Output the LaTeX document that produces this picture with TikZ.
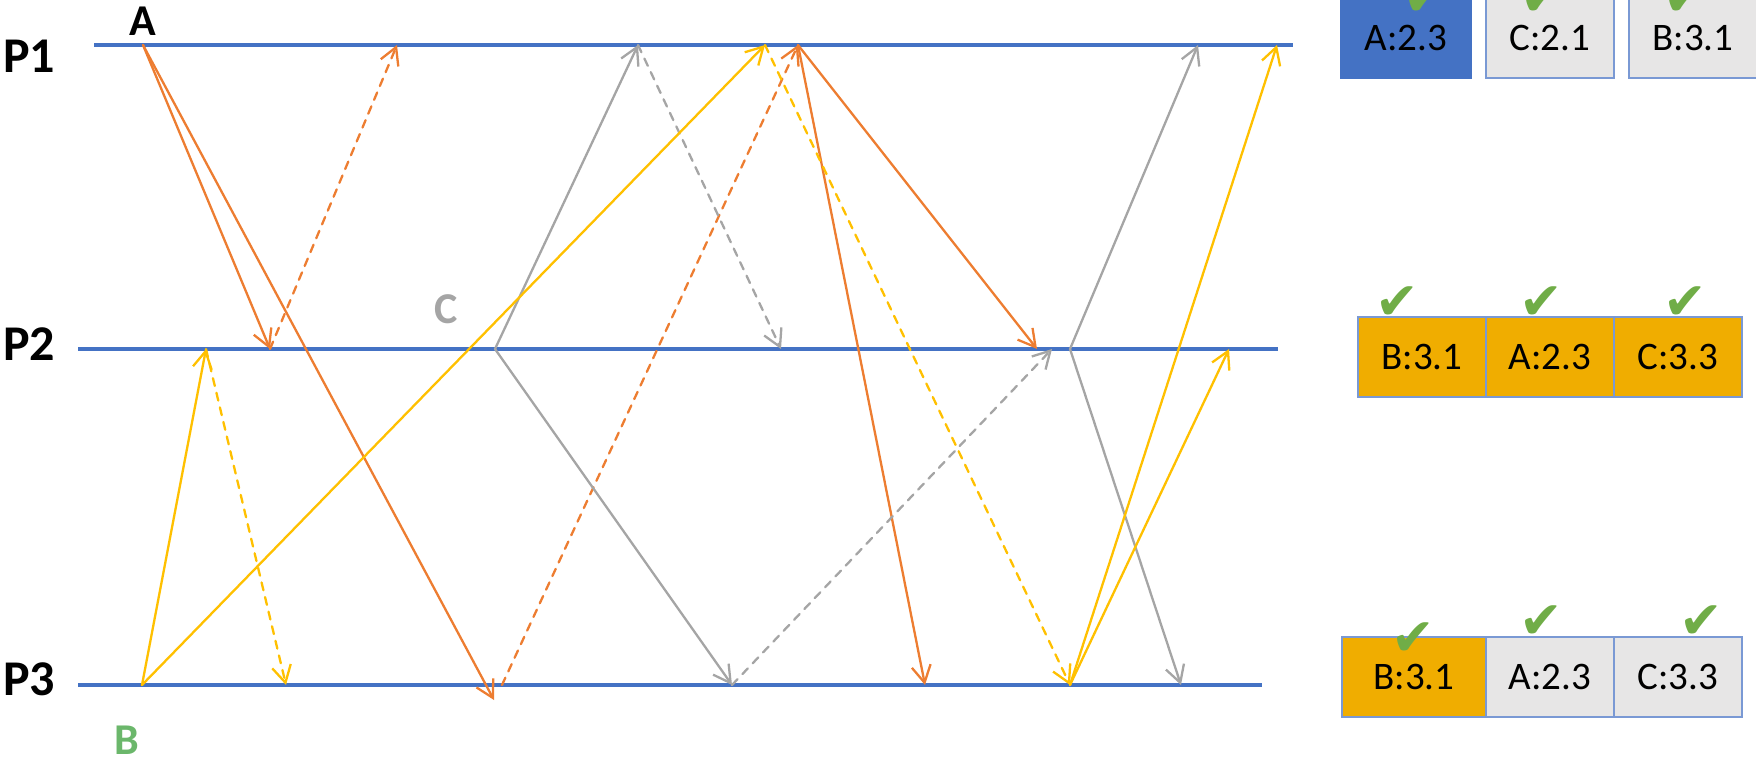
\documentclass[tikz,border=0pt]{standalone}
\usepackage{fontspec}
\setmainfont{Carlito}
\newfontfamily\checkfont{DejaVu Sans}
\usetikzlibrary{arrows.meta}
\definecolor{lineblue}{RGB}{68,114,196}
\definecolor{msgorange}{RGB}{237,125,49}
\definecolor{msggray}{RGB}{165,165,165}
\definecolor{msgyellow}{RGB}{255,192,0}
\definecolor{cellgold}{RGB}{240,173,0}
\definecolor{cellgray}{RGB}{231,230,230}
\definecolor{cellborder}{RGB}{122,153,212}
\definecolor{checkgreen}{RGB}{112,173,71}
\definecolor{labelgreen}{RGB}{107,183,107}

\begin{document}
\begin{tikzpicture}[x=1pt,y=-1pt]
\tikzset{
  timeline/.style={draw=lineblue,line width=4pt},
  msgline/.style={line width=2.3pt,line cap=round,-{Straight Barb[length=17pt,width=19pt]}},
  msgdash/.style={msgline,dash pattern=on 8pt off 7pt},
  proclabel/.style={font=\fontsize{50}{50}\selectfont\bfseries,inner sep=0pt},
  evlabel/.style={font=\fontsize{44}{44}\selectfont\bfseries,inner sep=0pt},
  cell/.style={rectangle,draw=cellborder,line width=1.5pt,minimum height=80pt,inner sep=0pt,font=\fontsize{39}{39}\selectfont},
  okmark/.style={font=\checkfont\fontsize{52}{52}\selectfont,text=checkgreen,inner sep=0pt}
}
\useasboundingbox (0,0) rectangle (1756,759);
\clip (0,0) rectangle (1756,759);

% process lines
\coordinate (p1_l) at (94,45);
\coordinate (p1_r) at (1293,45);
\coordinate (p2_l) at (78,349);
\coordinate (p2_r) at (1278,349);
\coordinate (p3_l) at (78,685);
\coordinate (p3_r) at (1262,685);
\draw[timeline] (p1_l) -- (p1_r);
\draw[timeline] (p2_l) -- (p2_r);
\draw[timeline] (p3_l) -- (p3_r);

\node[proclabel] (lab_P1) at (29,56) {P1};
\node[proclabel] (lab_P2) at (29,344) {P2};
\node[proclabel] (lab_P3) at (29,679) {P3};
\node[evlabel] (lab_A) at (143,21) {A};
\node[evlabel,text=msggray] (lab_C) at (446,309) {C};
\node[evlabel,text=labelgreen] (lab_B) at (127,740) {B};

% events
\coordinate (p1_a) at (143,45);
\coordinate (p1_o1) at (397,45);
\coordinate (p1_g1) at (638,45);
\coordinate (p1_y1) at (765,45);
\coordinate (p1_o2) at (798,45);
\coordinate (p1_g2) at (1198,45);
\coordinate (p1_y2) at (1277,45);
\coordinate (p2_y1) at (206,349);
\coordinate (p2_o1) at (270,349);
\coordinate (p2_c) at (495,349);
\coordinate (p2_g1) at (781,349);
\coordinate (p2_o2) at (1037,349);
\coordinate (p2_g2) at (1052,349);
\coordinate (p2_g3) at (1070,349);
\coordinate (p2_y2) at (1229,349);
\coordinate (p3_b) at (142,685);
\coordinate (p3_y1) at (286,685);
\coordinate (p3_o1) at (494,700);
\coordinate (p3_o1s) at (502,685);
\coordinate (p3_g1) at (732,685);
\coordinate (p3_o2) at (925,685);
\coordinate (p3_y2) at (1070,685);
\coordinate (p3_g2) at (1181,685);

% A
\draw[msgline,msgorange] (p1_a) -- (p2_o1);
\draw[msgline,msgorange] (p1_a) -- (p3_o1);
\draw[msgdash,msgorange] (p2_o1) -- (p1_o1);
\draw[msgdash,msgorange] (p3_o1s) -- (p1_o2);
\draw[msgline,msgorange] (p1_o2) -- (p3_o2);
\draw[msgline,msgorange] (p1_o2) -- (p2_o2);
% C
\draw[msgline,msggray] (p2_c) -- (p1_g1);
\draw[msgline,msggray] (p2_c) -- (p3_g1);
\draw[msgdash,msggray] (p1_g1) -- (p2_g1);
\draw[msgdash,msggray] (p3_g1) -- (p2_g2);
\draw[msgline,msggray] (p2_g3) -- (p1_g2);
\draw[msgline,msggray] (p2_g3) -- (p3_g2);
% B
\draw[msgline,msgyellow] (p3_b) -- (p2_y1);
\draw[msgline,msgyellow] (p3_b) -- (p1_y1);
\draw[msgdash,msgyellow] (p2_y1) -- (p3_y1);
\draw[msgdash,msgyellow] (p1_y1) -- (p3_y2);
\draw[msgline,msgyellow] (p3_y2) -- (p1_y2);
\draw[msgline,msgyellow] (p3_y2) -- (p2_y2);

% queues
\node[cell,fill=lineblue,draw=lineblue,minimum width=130pt] (q1_a) at (1406,38) {A:2.3};
\node[cell,fill=cellgray,minimum width=128pt] (q1_c) at (1550,38) {C:2.1};
\node[cell,fill=cellgray,minimum width=128pt] (q1_b) at (1693,38) {B:3.1};
\node[cell,fill=cellgold,minimum width=128pt] (q2_b) at (1422,357) {B:3.1};
\node[cell,fill=cellgold,minimum width=128pt] (q2_a) at (1550,357) {A:2.3};
\node[cell,fill=cellgold,minimum width=128pt] (q2_c) at (1678,357) {C:3.3};
\node[cell,fill=cellgold,minimum width=144pt] (q3_b) at (1414,677) {B:3.1};
\node[cell,fill=cellgray,minimum width=128pt] (q3_a) at (1550,677) {A:2.3};
\node[cell,fill=cellgray,minimum width=128pt] (q3_c) at (1678,677) {C:3.3};

\node[okmark] (ok1_a) at (1425,-1) {✔};
\node[okmark] (ok1_c) at (1542,-1) {✔};
\node[okmark] (ok1_b) at (1685,-1) {✔};
\node[okmark] (ok2_b) at (1397,303) {✔};
\node[okmark] (ok2_a) at (1541,303) {✔};
\node[okmark] (ok2_c) at (1685,303) {✔};
\node[okmark] (ok3_b) at (1413,639) {✔};
\node[okmark] (ok3_a) at (1541,622) {✔};
\node[okmark] (ok3_c) at (1701,622) {✔};
\end{tikzpicture}
\end{document}
